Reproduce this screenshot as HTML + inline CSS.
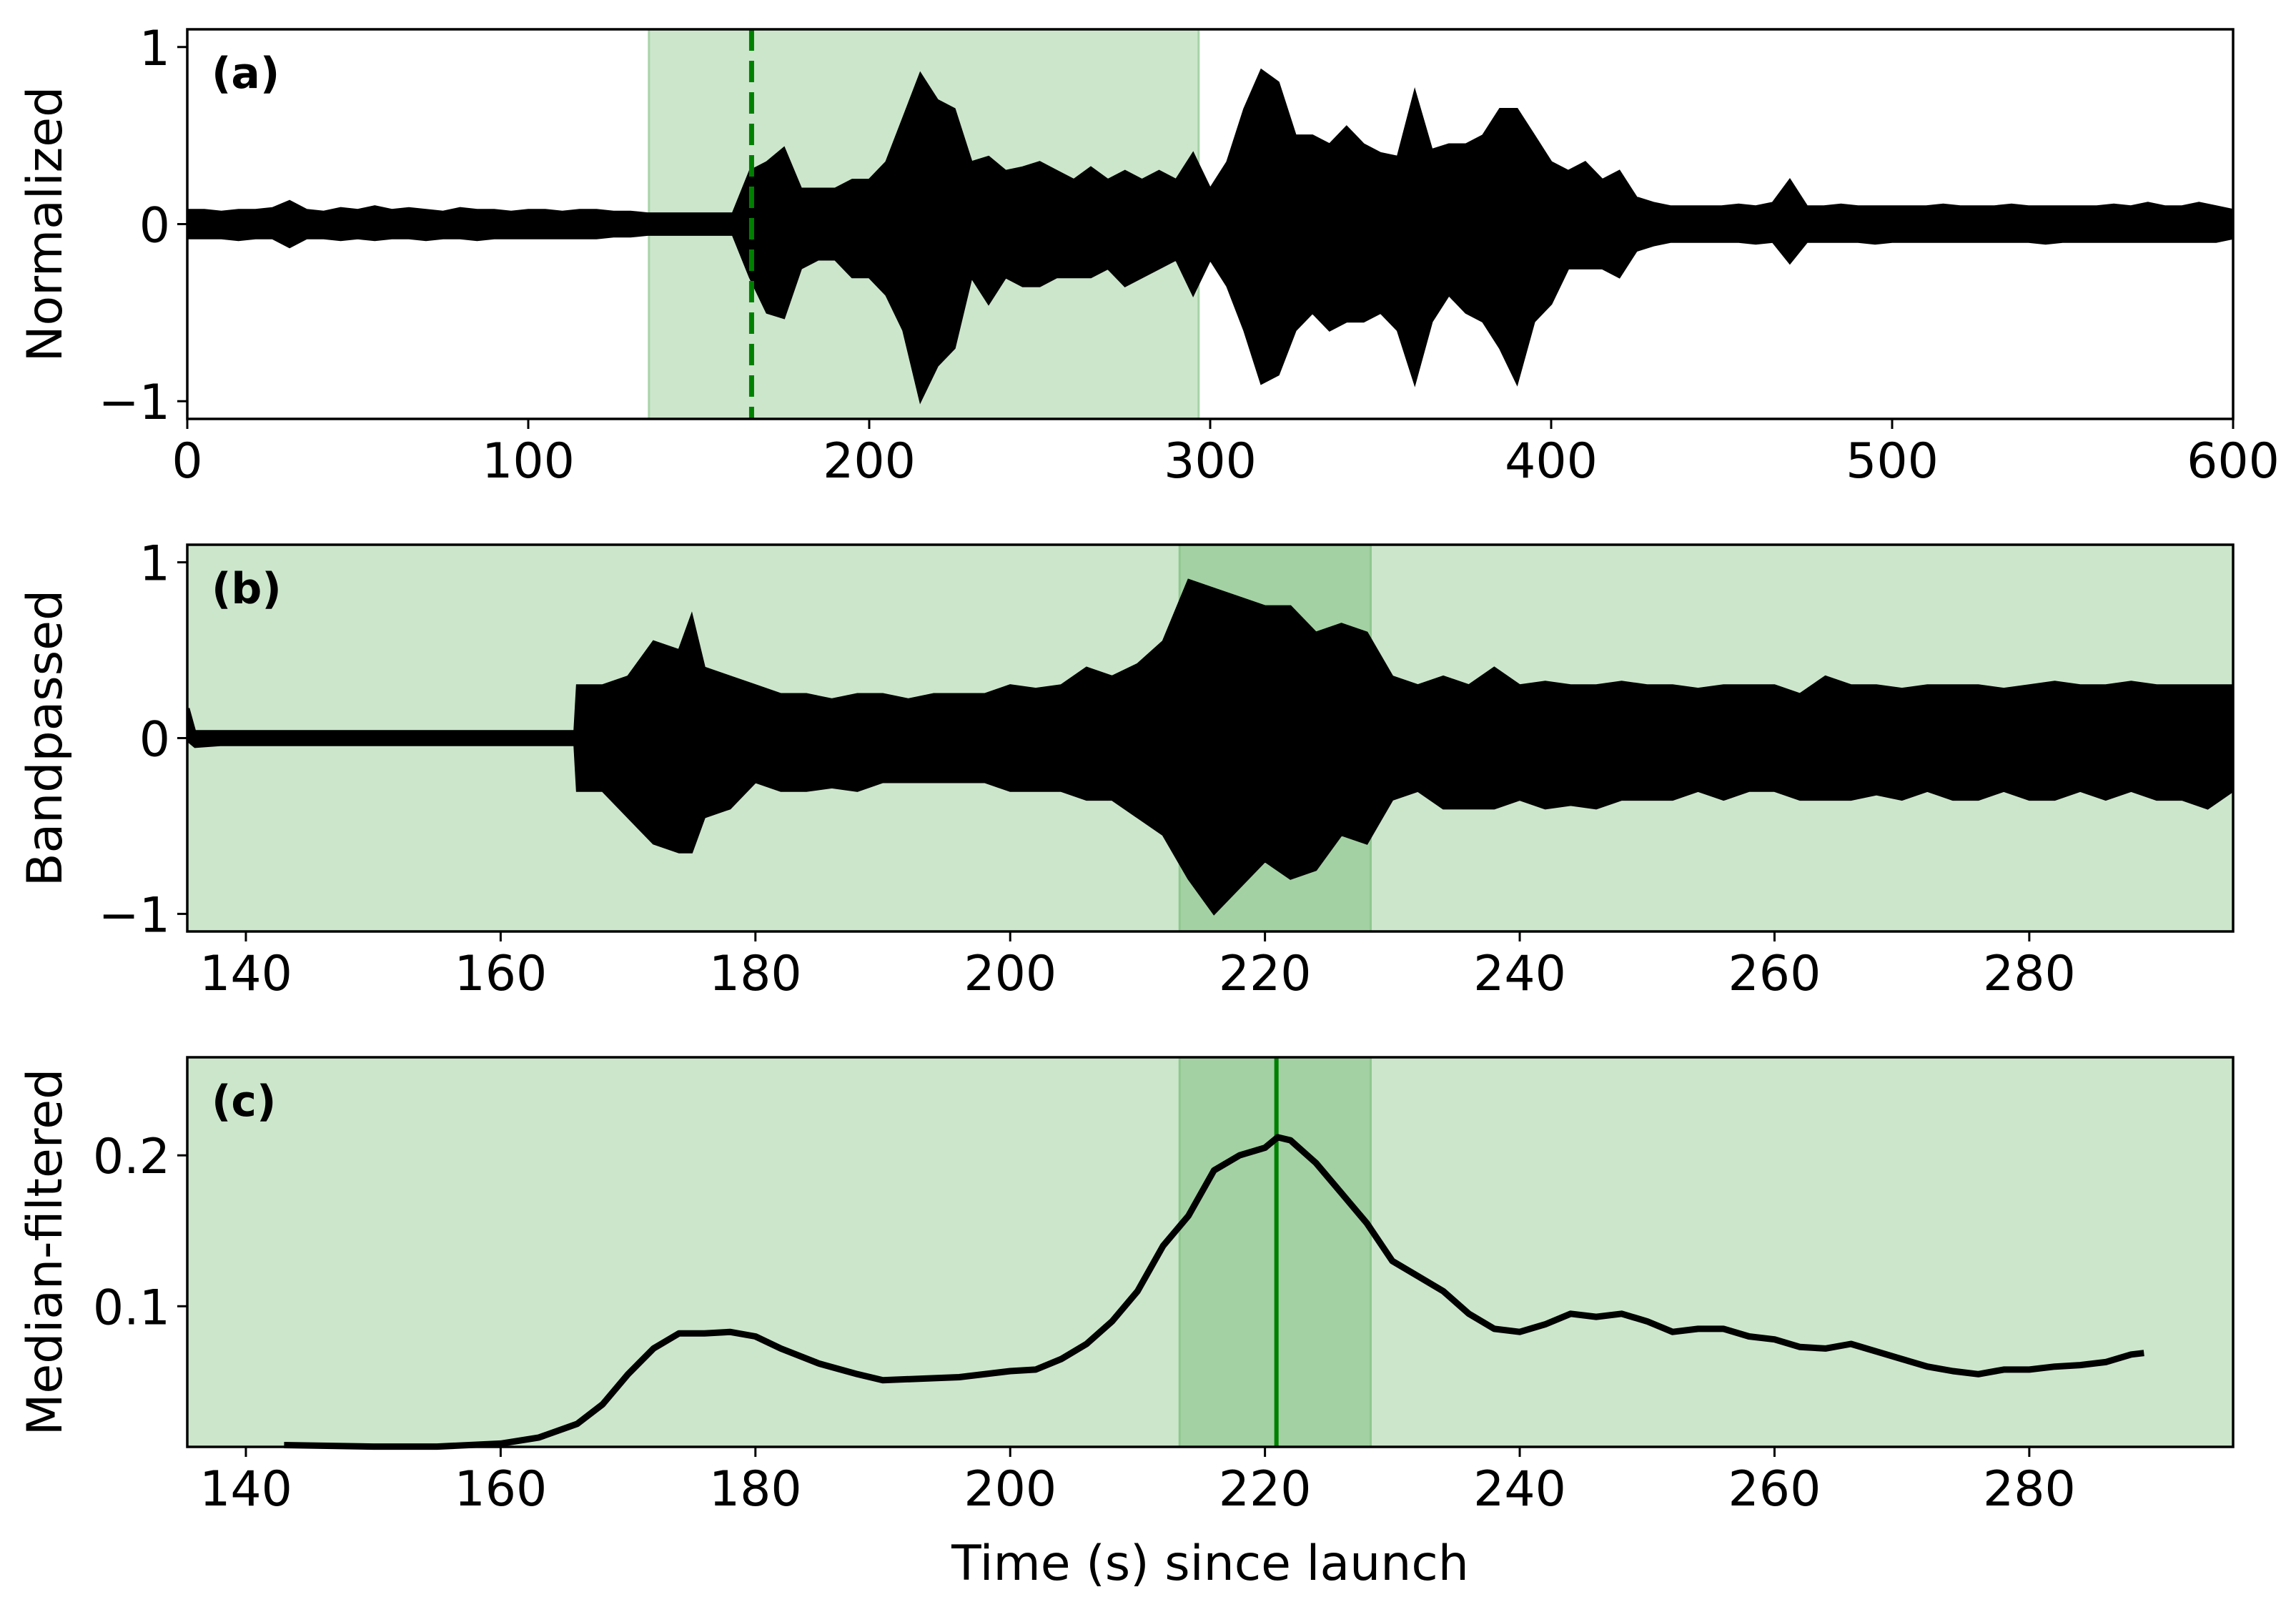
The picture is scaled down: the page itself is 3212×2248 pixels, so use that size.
<!DOCTYPE html>
<html><head><meta charset="utf-8"><style>
html,body{margin:0;padding:0;background:#fff}
svg{display:block;font-family:"DejaVu Sans","Liberation Sans",sans-serif}
</style></head><body>
<svg id="fig" width="3212" height="2248" viewBox="0 0 3212 2248" xmlns="http://www.w3.org/2000/svg"></svg>
<script>
// Panel (a): envelope of normalized trace, 5 s bins from 0 to 600
const aTimes = [0,5,10,15,20,25,30,35,40,45,50,55,60,65,70,75,80,85,90,95,100,105,110,115,120,125,130,135,140,145,150,155,160,165,170,175,180,185,190,195,200,205,210,215,220,225,230,235,240,245,250,255,260,265,270,275,280,285,290,295,300,305,310,315,320,325,330,335,340,345,350,355,360,365,370,375,380,385,390,395,400,405,410,415,420,425,430,435,440,445,450,455,460,465,470,475,480,485,490,495,500,505,510,515,520,525,530,535,540,545,550,555,560,565,570,575,580,585,590,595,600];
const aUpper = [0.08,0.08,0.07,0.08,0.08,0.09,0.13,0.08,0.07,0.09,0.08,0.1,0.08,0.09,0.08,0.07,0.09,0.08,0.08,0.07,0.08,0.08,0.07,0.08,0.08,0.07,0.07,0.06,0.06,0.06,0.06,0.06,0.06,0.3,0.35,0.43,0.2,0.2,0.2,0.25,0.25,0.35,0.6,0.85,0.7,0.65,0.35,0.38,0.3,0.32,0.35,0.3,0.25,0.32,0.25,0.3,0.25,0.3,0.25,0.4,0.2,0.35,0.65,0.87,0.8,0.5,0.5,0.45,0.55,0.45,0.4,0.38,0.75,0.42,0.45,0.45,0.5,0.65,0.65,0.5,0.35,0.3,0.35,0.25,0.3,0.15,0.12,0.1,0.1,0.1,0.1,0.11,0.1,0.12,0.25,0.1,0.1,0.11,0.1,0.1,0.1,0.1,0.1,0.11,0.1,0.1,0.1,0.11,0.1,0.1,0.1,0.1,0.1,0.11,0.1,0.12,0.1,0.1,0.12,0.1,0.08];
const aLower = [-0.08,-0.08,-0.08,-0.09,-0.08,-0.08,-0.13,-0.08,-0.08,-0.09,-0.08,-0.09,-0.08,-0.08,-0.09,-0.08,-0.08,-0.09,-0.08,-0.08,-0.08,-0.08,-0.08,-0.08,-0.08,-0.07,-0.07,-0.06,-0.06,-0.06,-0.06,-0.06,-0.06,-0.3,-0.5,-0.53,-0.25,-0.2,-0.2,-0.3,-0.3,-0.4,-0.6,-1.0,-0.8,-0.7,-0.3,-0.45,-0.3,-0.35,-0.35,-0.3,-0.3,-0.3,-0.25,-0.35,-0.3,-0.25,-0.2,-0.4,-0.2,-0.35,-0.6,-0.9,-0.85,-0.6,-0.5,-0.6,-0.55,-0.55,-0.5,-0.6,-0.9,-0.55,-0.4,-0.5,-0.55,-0.7,-0.9,-0.55,-0.45,-0.25,-0.25,-0.25,-0.3,-0.15,-0.12,-0.1,-0.1,-0.1,-0.1,-0.1,-0.11,-0.1,-0.22,-0.1,-0.1,-0.1,-0.1,-0.11,-0.1,-0.1,-0.1,-0.1,-0.1,-0.1,-0.1,-0.1,-0.1,-0.11,-0.1,-0.1,-0.1,-0.1,-0.1,-0.1,-0.1,-0.1,-0.1,-0.1,-0.08];
// Panel (b): bandpassed envelope, 2 s bins
const bTimes = [135.5,136,138,140,142,144,146,148,150,152,154,156,158,160,162,164,165.8,166,168,170,172,174,175,176,178,180,182,184,186,188,190,192,194,196,198,200,202,204,206,208,210,212,214,216,218,220,222,224,226,228,230,232,234,236,238,240,242,244,246,248,250,252,254,256,258,260,262,264,266,268,270,272,274,276,278,280,282,284,286,288,290,292,294,296];
const bUpper = [0.17,0.04,0.04,0.04,0.04,0.04,0.04,0.04,0.04,0.04,0.04,0.04,0.04,0.04,0.04,0.04,0.04,0.3,0.3,0.35,0.55,0.5,0.7,0.4,0.35,0.3,0.25,0.25,0.22,0.25,0.25,0.22,0.25,0.25,0.25,0.3,0.28,0.3,0.4,0.35,0.42,0.55,0.9,0.85,0.8,0.75,0.75,0.6,0.65,0.6,0.35,0.3,0.35,0.3,0.4,0.3,0.32,0.3,0.3,0.32,0.3,0.3,0.28,0.3,0.3,0.3,0.25,0.35,0.3,0.3,0.28,0.3,0.3,0.3,0.28,0.3,0.32,0.3,0.3,0.32,0.3,0.3,0.3,0.3];
const bLower = [-0.02,-0.05,-0.04,-0.04,-0.04,-0.04,-0.04,-0.04,-0.04,-0.04,-0.04,-0.04,-0.04,-0.04,-0.04,-0.04,-0.04,-0.3,-0.3,-0.45,-0.6,-0.65,-0.65,-0.45,-0.4,-0.25,-0.3,-0.3,-0.28,-0.3,-0.25,-0.25,-0.25,-0.25,-0.25,-0.3,-0.3,-0.3,-0.35,-0.35,-0.45,-0.55,-0.8,-1.0,-0.85,-0.7,-0.8,-0.75,-0.55,-0.6,-0.35,-0.3,-0.4,-0.4,-0.4,-0.35,-0.4,-0.38,-0.4,-0.35,-0.35,-0.35,-0.3,-0.35,-0.3,-0.3,-0.35,-0.35,-0.35,-0.32,-0.35,-0.3,-0.35,-0.35,-0.3,-0.35,-0.35,-0.3,-0.35,-0.3,-0.35,-0.35,-0.4,-0.3];
// Panel (c): median-filtered curve
const cTimes = [143,150,155,160,163,166,168,170,172,174,176,178,180,182,185,188,190,193,196,200,202,204,206,208,210,212,214,216,218,220,221,222,224,226,228,230,232,234,236,238,240,242,244,246,248,250,252,254,256,258,260,262,264,266,268,270,272,274,276,278,280,282,284,286,288,289];
const cValues = [0.008,0.007,0.007,0.009,0.013,0.022,0.035,0.055,0.072,0.082,0.082,0.083,0.08,0.072,0.062,0.055,0.051,0.052,0.053,0.057,0.058,0.065,0.075,0.09,0.11,0.14,0.16,0.19,0.2,0.205,0.212,0.21,0.195,0.175,0.155,0.13,0.12,0.11,0.095,0.085,0.083,0.088,0.095,0.093,0.095,0.09,0.083,0.085,0.085,0.08,0.078,0.073,0.072,0.075,0.07,0.065,0.06,0.057,0.055,0.058,0.058,0.06,0.061,0.063,0.068,0.069];
const aXTicks = [0,100,200,300,400,500,600];
const bXTicks = [140,160,180,200,220,240,260,280];
const abYTicks = [-1,0,1];
const cYTicks = [0.1,0.2];
const cYTickLabels = ["0.1","0.2"];
const windowA = [135.4,296.6];
const dashedT = 165.5;
const windowB = [213.3,228.3];
const peakT = 220.9;

const NS="http://www.w3.org/2000/svg";
const svg=document.getElementById('fig');
function mk(tag,attrs,parent){const e=document.createElementNS(NS,tag);for(const k in attrs)e.setAttribute(k,attrs[k]);(parent||svg).appendChild(e);return e;}
function scale(d0,d1,p0,p1){return v=>p0+(v-d0)/(d1-d0)*(p1-p0);}
const L=262,R=3124;
function envPath(ts,up,lo,x,y){let d='';for(let i=0;i<ts.length;i++)d+=(i?'L':'M')+x(ts[i]).toFixed(1)+','+y(up[i]).toFixed(1);for(let i=ts.length-1;i>=0;i--)d+='L'+x(ts[i]).toFixed(1)+','+y(lo[i]).toFixed(1);return d+'Z';}
function axes(top,bot,x,y,xt,yt,ytl,name){
  const fr=mk('rect',{x:L,y:top,width:R-L,height:bot-top,fill:'none',stroke:'#000','stroke-width':3.5});
  
  
  xt.forEach(t=>{const px=x(t);
    const tk=mk('line',{x1:px,x2:px,y1:bot,y2:bot+14,stroke:'#000','stroke-width':3});
    
    
    const tx=mk('text',{x:px,y:bot+82,'font-size':68,'text-anchor':'middle'});tx.textContent=t;
    
    });
  yt.forEach((t,i)=>{const py=y(t);
    const tk=mk('line',{x1:L-14,x2:L,y1:py,y2:py,stroke:'#000','stroke-width':3});
    
    
    const tx=mk('text',{x:L-24,y:py+25,'font-size':68,'text-anchor':'end'});tx.textContent=ytl?ytl[i]:(t<0?'\u2212'+(-t):String(t));
    
    });
}
function ylab(txt,cy,name){const t=mk('text',{x:0,y:0,'font-size':68,'text-anchor':'middle',transform:`translate(86,${cy}) rotate(-90)`});t.textContent=txt;
  
  }
function plabel(txt,top,name){const t=mk('text',{x:296,y:top+82,'font-size':60,'font-weight':'bold'});t.textContent=txt;
  
  }

// Panel A
{const top=41,bot=586;const x=scale(0,600,L,R);const y=scale(-1.1,1.1,bot,top);
 const s=mk('rect',{x:x(windowA[0]),y:top,width:x(windowA[1])-x(windowA[0]),height:bot-top,fill:'#cce6cc',stroke:'#a8d3a8','stroke-width':3});
 
 
 const p=mk('path',{d:envPath(aTimes,aUpper,aLower,x,y),fill:'#000',stroke:'#000','stroke-width':3,'stroke-linejoin':'miter'});
 
 
 const dl=mk('line',{x1:x(dashedT),x2:x(dashedT),y1:top,y2:bot,stroke:'#008000','stroke-width':7,'stroke-dasharray':'30,14'});
 
 
 axes(top,bot,x,y,aXTicks,abYTicks,null,'panel-a');
 ylab('Normalized',(top+bot)/2,'y-axis-title-a');plabel('(a)',top,'panel-label-a');}
// Panel B
{const top=762,bot=1303;const x=scale(135.4,296,L,R);const y=scale(-1.1,1.1,bot,top);
 const s=mk('rect',{x:L,y:top,width:R-L,height:bot-top,fill:'#cce6cc'});
 
 
 const s2=mk('rect',{x:x(windowB[0]),y:top,width:x(windowB[1])-x(windowB[0]),height:bot-top,fill:'#a3d1a3',stroke:'#8fc78f','stroke-width':3});
 
 
 const p=mk('path',{d:envPath(bTimes,bUpper,bLower,x,y),fill:'#000',stroke:'#000','stroke-width':3});
 
 
 axes(top,bot,x,y,bXTicks,abYTicks,null,'panel-b');
 ylab('Bandpassed',(top+bot)/2,'y-axis-title-b');plabel('(b)',top,'panel-label-b');}
// Panel C
{const top=1479,bot=2024;const x=scale(135.4,296,L,R);const y=scale(0.0068,0.265,bot,top);
 const s=mk('rect',{x:L,y:top,width:R-L,height:bot-top,fill:'#cce6cc'});
 
 
 const s2=mk('rect',{x:x(windowB[0]),y:top,width:x(windowB[1])-x(windowB[0]),height:bot-top,fill:'#a3d1a3',stroke:'#8fc78f','stroke-width':3});
 
 
 const vl=mk('line',{x1:x(peakT),x2:x(peakT),y1:top,y2:bot,stroke:'#008000','stroke-width':6});
 
 
 let d='';cTimes.forEach((t,i)=>{d+=(i?'L':'M')+x(t).toFixed(1)+','+y(cValues[i]).toFixed(1);});
 const p=mk('path',{d:d,fill:'none',stroke:'#000','stroke-width':9,'stroke-linejoin':'round'});
 
 
 axes(top,bot,x,y,bXTicks,cYTicks,cYTickLabels,'panel-c');
 ylab('Median-filtered',(top+bot)/2,'y-axis-title-c');plabel('(c)',top,'panel-label-c');
 const xl=mk('text',{x:(L+R)/2,y:2210,'font-size':68,'text-anchor':'middle'});xl.textContent='Time (s) since launch';
 
 }
</script>
</body></html>
